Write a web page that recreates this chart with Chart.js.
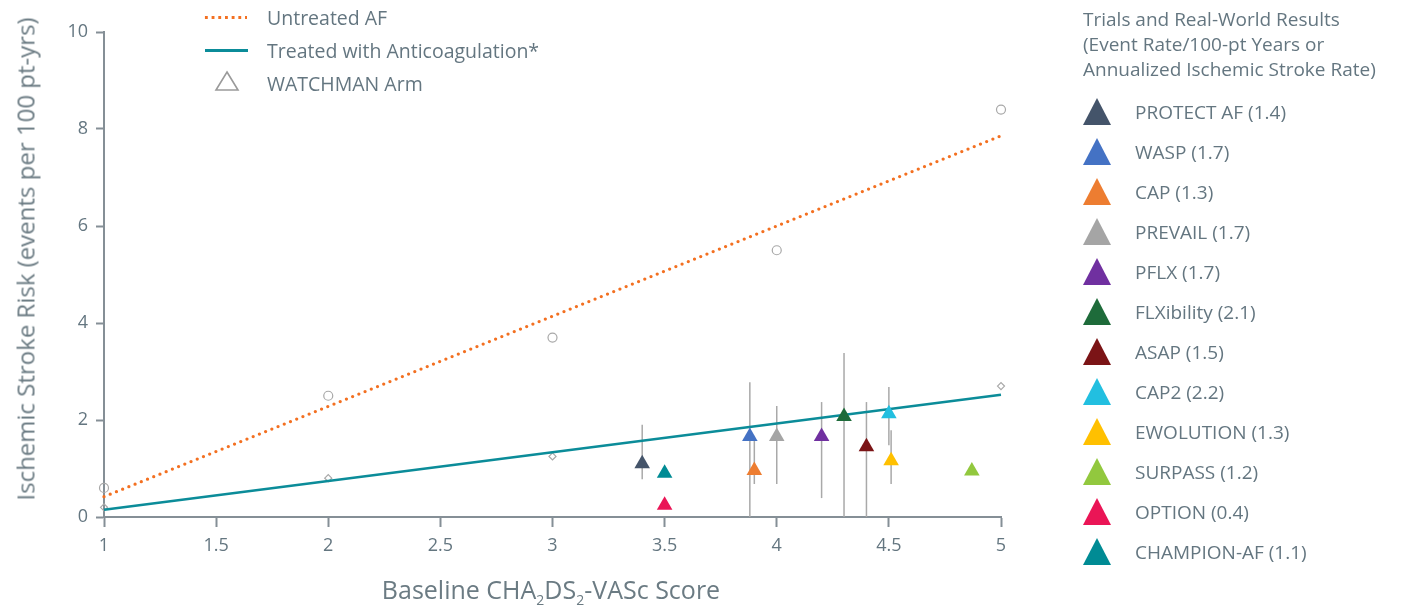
<!DOCTYPE html>
<html>
<head>
<meta charset="utf-8">
<script src="https://cdn.jsdelivr.net/npm/chart.js"></script>
<style>
  body { margin: 0; background: #fff; font-family: "Open Sans", sans-serif; color: #647680; }
  #wrap { position: relative; width: 1405px; height: 607px; overflow: hidden; }
  #chart { position: absolute; left: 0; top: 0; }
  .lbl { position: absolute; white-space: nowrap; }
  .tri { position: absolute; clip-path: polygon(50% 0, 100% 100%, 0 100%); }
</style>
</head>
<body>
<div id="wrap">
  <canvas id="chart" width="1405" height="607"></canvas>
  <div id="overlay"></div>
</div>
<script>
// ---- datos ----
const ejeXTicks = [1, 1.5, 2, 2.5, 3, 3.5, 4, 4.5, 5];
const ejeYTicks = [0, 2, 4, 6, 8, 10];

// puntos observados y rectas de tendencia
const sinTratarX = [1, 2, 3, 4, 5];
const sinTratarY = [0.6, 2.5, 3.7, 5.5, 8.4];
const sinTratarLineaX = [1, 5];
const sinTratarLineaY = [0.42, 7.86];

const tratadoX = [1, 2, 3, 5];
const tratadoY = [0.2, 0.8, 1.25, 2.7];
const tratadoLineaX = [1, 5];
const tratadoLineaY = [0.15, 2.52];

// estudios WATCHMAN
const estudios = ['PROTECT AF (1.4)', 'WASP (1.7)', 'CAP (1.3)', 'PREVAIL (1.7)', 'PFLX (1.7)',
  'FLXibility (2.1)', 'ASAP (1.5)', 'CAP2 (2.2)', 'EWOLUTION (1.3)', 'SURPASS (1.2)',
  'OPTION (0.4)', 'CHAMPION-AF (1.1)'];
const estudiosX = [3.4, 3.88, 3.9, 4.0, 4.2, 4.3, 4.4, 4.5, 4.51, 4.87, 3.5, 3.5];
const estudiosY = [1.1, 1.66, 0.96, 1.66, 1.66, 2.07, 1.45, 2.13, 1.16, 0.95, 0.24, 0.9];
const errorBajo = [0.78, 0, 0.68, 0.68, 0.39, 0, 0, 1.48, 0.68, null, null, null];
const errorAlto = [1.9, 2.78, 1.62, 2.29, 2.37, 3.38, 2.37, 2.68, 1.79, null, null, null];
const coloresEstudios = ['#44546a', '#4472c4', '#ed7d31', '#a5a5a5', '#7030a0', '#1e6b3a',
  '#7b1416', '#22bfe0', '#ffc000', '#92c83e', '#ea1556', '#008b94'];

const NARANJA = '#f37021';
const VERDE_AZUL = '#0b8c99';
const GRIS_EJE = '#858f96';
const GRIS_TEXTO = '#647680';

function puntos(xs, ys) {
  return xs.map((x, i) => ({ x: x, y: ys[i] }));
}

// barras de error dibujadas con las escalas del grafico
const pluginBarrasError = {
  id: 'barrasError',
  beforeDatasetsDraw(chart) {
    const ctx = chart.ctx;
    const sx = chart.scales.x, sy = chart.scales.y;
    ctx.save();
    ctx.strokeStyle = '#a9a9a9';
    ctx.lineWidth = 1.5;
    estudiosX.forEach((x, i) => {
      if (errorBajo[i] === null) return;
      const px = sx.getPixelForValue(x);
      ctx.beginPath();
      ctx.moveTo(px, sy.getPixelForValue(errorBajo[i]));
      ctx.lineTo(px, sy.getPixelForValue(errorAlto[i]));
      ctx.stroke();
    });
    ctx.restore();
  }
};

const datasets = [];
estudios.forEach((nombre, i) => {
  datasets.push({
    type: 'scatter',
    label: nombre,
    data: [{ x: estudiosX[i], y: estudiosY[i] }],
    pointStyle: 'triangle',
    pointRadius: 9,
    backgroundColor: coloresEstudios[i],
    borderColor: coloresEstudios[i],
    borderWidth: 0,
    clip: false,
    order: 0
  });
});
datasets.push({
  type: 'line', label: 'Untreated AF',
  data: puntos(sinTratarLineaX, sinTratarLineaY),
  borderColor: NARANJA, borderWidth: 3.3, borderDash: [0, 6.7], borderCapStyle: 'round',
  pointRadius: 0, fill: false, clip: false, order: 2
});
datasets.push({
  type: 'line', label: 'Treated with Anticoagulation*',
  data: puntos(tratadoLineaX, tratadoLineaY),
  borderColor: VERDE_AZUL, borderWidth: 2.5, pointRadius: 0, fill: false, clip: false, order: 2
});
datasets.push({
  type: 'scatter', label: 'obs sin tratar',
  data: puntos(sinTratarX, sinTratarY),
  pointStyle: 'circle', pointRadius: 4.5, borderColor: '#a8a8a8', borderWidth: 1.2,
  backgroundColor: 'rgba(255,255,255,0)', clip: false, order: 3
});
datasets.push({
  type: 'scatter', label: 'obs tratado',
  data: puntos(tratadoX, tratadoY),
  pointStyle: 'rectRot', pointRadius: 3.5, borderColor: '#a8a8a8', borderWidth: 1.2,
  backgroundColor: 'rgba(255,255,255,0)', clip: false, order: 3
});

new Chart(document.getElementById('chart').getContext('2d'), {
  type: 'scatter',
  data: { datasets: datasets },
  options: {
    responsive: false,
    animation: false,
    events: [],
    layout: { padding: { left: 0, top: 32, right: 404, bottom: 0 } },
    plugins: { legend: { display: false }, tooltip: { enabled: false } },
    scales: {
      x: {
        type: 'linear', min: 1, max: 5,
        afterBuildTicks: (s) => { s.ticks = ejeXTicks.map(v => ({ value: v })); },
        afterFit: (s) => { s.height = 90; },
        grid: { drawOnChartArea: false, drawTicks: true, tickLength: 10, tickColor: GRIS_EJE, tickWidth: 2 },
        border: { display: true, color: GRIS_EJE, width: 2 },
        ticks: {
          padding: 8, color: GRIS_TEXTO, maxRotation: 0, autoSkip: false,
          font: { family: '"Liberation Sans Narrow", "Open Sans", sans-serif', size: 18 },
          callback: (v) => String(v)
        }
      },
      y: {
        type: 'linear', min: 0, max: 10,
        afterBuildTicks: (s) => { s.ticks = ejeYTicks.map(v => ({ value: v })); },
        afterFit: (s) => { s.width = 104; },
        grid: { drawOnChartArea: false, drawTicks: true, tickLength: 8, tickColor: GRIS_EJE, tickWidth: 2 },
        border: { display: true, color: GRIS_EJE, width: 2 },
        ticks: {
          padding: 8, color: GRIS_TEXTO,
          font: { family: '"Open Sans", sans-serif', size: 18 },
          callback: (v) => String(v)
        }
      }
    }
  },
  plugins: [pluginBarrasError]
});

// leyendas y titulos de los ejes (texto HTML)
const overlay = document.getElementById('overlay');
function agregar(html, estilo) {
  const d = document.createElement('div');
  d.className = 'lbl';
  d.innerHTML = html;
  Object.assign(d.style, estilo);
  overlay.appendChild(d);
  return d;
}

// titulos de los ejes
agregar('Ischemic Stroke Risk (events per 100 pt-yrs)', {
  left: '25px', top: '259px', fontSize: '24px', color: '#6b7b83',
  transform: 'translate(-50%, -50%) rotate(-90deg)'
});
agregar('Baseline CHA<sub style="font-size:14px;vertical-align:-6px">2</sub>DS<sub style="font-size:14px;vertical-align:-6px">2</sub>-VASc Score', {
  left: '551px', top: '590px', fontSize: '25px', color: '#6b7b83',
  transform: 'translate(-50%, -50%)'
});

// leyenda superior izquierda
const leyendaSup = ['Untreated AF', 'Treated with Anticoagulation*', 'WATCHMAN Arm'];
leyendaSup.forEach((t, i) => {
  agregar(t, { left: '267px', top: (17 + i * 33) + 'px', fontSize: '19.5px', transform: 'translateY(-50%)' });
});
agregar('', { left: '203px', top: '16px', width: '44px', height: '3px',
  backgroundImage: 'radial-gradient(circle, ' + NARANJA + ' 1.5px, transparent 1.7px)',
  backgroundSize: '6.7px 3px' });
agregar('', { left: '205px', top: '49px', width: '43px', height: '2.5px', background: VERDE_AZUL });
agregar('<svg width="26" height="22"><polygon points="13,2 24,20 2,20" fill="none" stroke="#9a9a9a" stroke-width="1.6"/></svg>',
  { left: '214px', top: '70px' });

// leyenda derecha
agregar('Trials and Real-World Results<br>(Event Rate/100-pt Years or<br>Annualized Ischemic Stroke Rate)', {
  left: '1083px', top: '7px', fontSize: '19px', lineHeight: '25px'
});
estudios.forEach((nombre, i) => {
  const cy = 112 + i * 40;
  const t = document.createElement('div');
  t.className = 'tri';
  Object.assign(t.style, { left: '1083px', top: (cy - 14) + 'px', width: '28px', height: '27px', background: coloresEstudios[i] });
  overlay.appendChild(t);
  agregar(nombre, { left: '1135px', top: cy + 'px', fontSize: '19px', transform: 'translateY(-50%)' });
});
</script>
</body>
</html>
